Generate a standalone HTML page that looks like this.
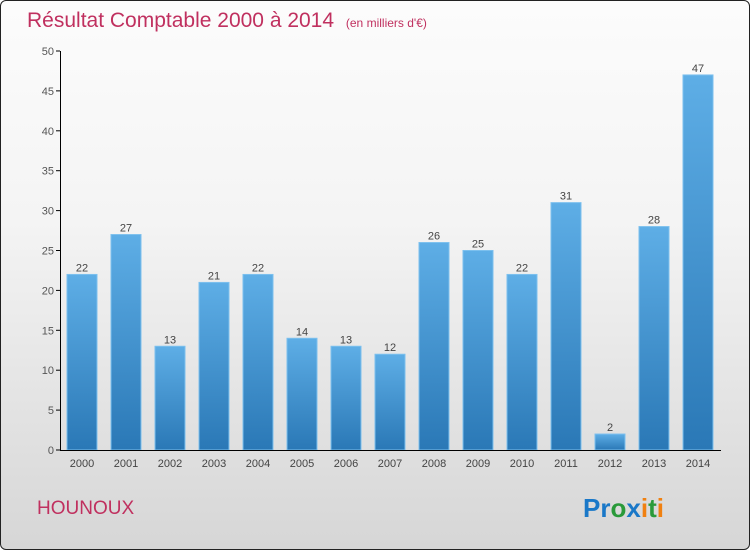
<!DOCTYPE html>
<html><head><meta charset="utf-8"><style>
body{margin:0}
#c{width:748px;height:548px;border:1px solid #222;border-radius:6px;overflow:hidden;background:linear-gradient(#fcfcfc,#f4f4f4 40%,#d6d6d6);position:relative;font-family:"Liberation Sans",sans-serif}
</style></head><body>
<div id="c">
<svg width="748" height="548" id="s">
<defs><linearGradient id="g" x1="0" y1="0" x2="0" y2="1"><stop offset="0" stop-color="#5eaee6"/><stop offset="1" stop-color="#2a78b6"/></linearGradient></defs>
<text x="26" y="26" font-size="21" fill="#c0305f">Résultat Comptable 2000 à 2014 <tspan font-size="12" dx="6">(en milliers d'€)</tspan></text>
<text x="36" y="513" font-size="19" fill="#c0305f">HOUNOUX</text>
<text x="582" y="516" font-size="26" font-weight="bold"><tspan fill="#1a78c8">Pr</tspan><tspan fill="#2a9a3a">o</tspan><tspan fill="#1a78c8">x</tspan><tspan fill="#f08010">i</tspan><tspan fill="#2a9a3a">t</tspan><tspan fill="#f08010">i</tspan></text>
<g id="plot"></g>
</svg></div>
<script>
const years=["2000","2001","2002","2003","2004","2005","2006","2007","2008","2009","2010","2011","2012","2013","2014"];
const values=[22,27,13,21,22,14,13,12,26,25,22,31,2,28,47];
const ticks=[0,5,10,15,20,25,30,35,40,45,50];
const ns="http://www.w3.org/2000/svg",p=document.getElementById('plot');
const y=v=>449-v*7.98, x=i=>81+i*44;
function mk(t,a){const e=document.createElementNS(ns,t);for(const k in a)e.setAttribute(k,a[k]);p.appendChild(e);return e;}
ticks.forEach(t=>{
const l=mk('line',{x1:55,x2:59,y1:y(t),y2:y(t),stroke:'#000'});


const tx=mk('text',{x:53,y:y(t)+4,'text-anchor':'end','font-size':11,fill:'#555'});tx.textContent=t;


});
values.forEach((v,i)=>{
const r=mk('rect',{x:x(i)-15,y:y(v),width:30,height:y(0)-y(v),fill:'url(#g)',stroke:'#7cc0ee','stroke-width':1});


const t=mk('text',{x:x(i),y:y(v)-3,'text-anchor':'middle','font-size':11,fill:'#444'});t.textContent=v;


const yl=mk('text',{x:x(i),y:466,'text-anchor':'middle','font-size':11,fill:'#444'});yl.textContent=years[i];


});
const ya=mk('line',{x1:59.5,x2:59.5,y1:y(50),y2:y(0),stroke:'#000'});


const xa=mk('line',{x1:59,x2:720,y1:y(0)+0.5,y2:y(0)+0.5,stroke:'#000'});


</script>
</body></html>
